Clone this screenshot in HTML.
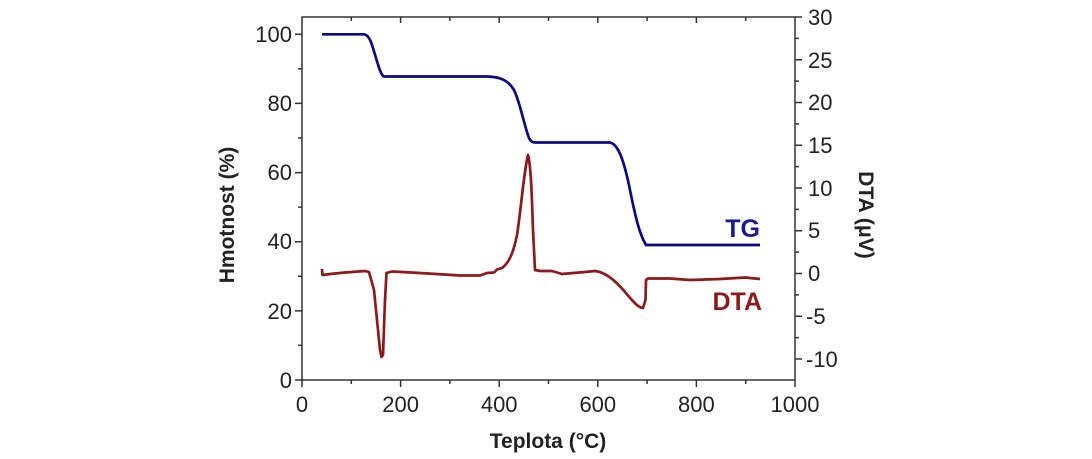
<!DOCTYPE html>
<html><head><meta charset="utf-8"><style>
body{margin:0;background:#fff}
svg{display:block}
text{font-family:"Liberation Sans",Arial,sans-serif}
</style></head><body>
<svg width="1092" height="459" viewBox="0 0 1092 459">
<g stroke="#333" stroke-width="1.5" fill="none">
<rect x="302" y="17" width="493" height="363"/>
<path d="M302 380v7M400.6 380v7M499.2 380v7M597.8 380v7M696.4 380v7M795 380v7M351.3 380v4M449.9 380v4M548.5 380v4M647.1 380v4M745.7 380v4"/>
<path d="M400.6 17v6M499.2 17v6M597.8 17v6M696.4 17v6M351.3 17v4M449.9 17v4M548.5 17v4M647.1 17v4M745.7 17v4"/>
<path d="M302 380h-7M302 310.9h-7M302 241.7h-7M302 172.6h-7M302 103.4h-7M302 34.3h-7M302 345.4h-4M302 276.3h-4M302 207.1h-4M302 138h-4M302 68.9h-4"/>
<path d="M795 17h7M795 59.8h7M795 102.5h7M795 145.3h7M795 188h7M795 230.8h7M795 273.5h7M795 316.3h7M795 359h7M795 38.4h4M795 81.1h4M795 123.9h4M795 166.6h4M795 209.4h4M795 252.1h4M795 294.9h4M795 337.6h4"/>
</g>
<g font-size="22" fill="#222">
<g text-anchor="middle">
<text x="302" y="412">0</text><text x="400.6" y="412">200</text><text x="499.2" y="412">400</text><text x="597.8" y="412">600</text><text x="696.4" y="412">800</text><text x="795" y="412">1000</text>
</g>
<g text-anchor="end">
<text x="292" y="388">0</text><text x="292" y="319">20</text><text x="292" y="249">40</text><text x="292" y="180">60</text><text x="292" y="111">80</text><text x="292" y="42">100</text>
</g>
<g text-anchor="start">
<text x="808" y="25">30</text><text x="808" y="68">25</text><text x="808" y="110">20</text><text x="808" y="153">15</text><text x="808" y="196">10</text><text x="808" y="238">5</text><text x="808" y="281">0</text><text x="806" y="324">-5</text><text x="806" y="367">-10</text>
</g>
</g>
<text x="548" y="448" font-size="21" font-weight="bold" text-anchor="middle" fill="#222">Teplota (°C)</text>
<text transform="translate(234,215) rotate(-90)" font-size="21" font-weight="bold" text-anchor="middle" fill="#222">Hmotnost (%)</text>
<text transform="translate(859,215) rotate(90)" font-size="21" font-weight="bold" text-anchor="middle" fill="#222">DTA (μV)</text>
<text x="760" y="237" font-size="25" font-weight="bold" text-anchor="end" fill="#1a1a8c">TG</text>
<text x="762" y="310" font-size="25" font-weight="bold" text-anchor="end" fill="#8b1a1a">DTA</text>
<path fill="none" stroke="#0a0a80" stroke-width="2.7" d="M322 34.3 L364 34.3 C370 35 372 45 376 58 C379 68 381 75 384 76.5 L488 76.5 C500 77 508 80 514 90 C520 102 524 125 529 138 C531 142 533 142.5 536 142.5 L610 142.5 C618 144 624 160 630 190 C636 220 640 235 646 245 L760 245"/>
<path fill="none" stroke="#8b1a1a" stroke-width="2.7" stroke-linejoin="round" d="M322 269 L322.5 275 L330 274 L345 272.5 L365 271 L369 272 L374 290 L380 350 L381.5 357 L383 355 L385 300 L386.5 273 L392 271.5 L420 273 L460 275.5 L480 275.5 L487 273 L494 272.5 L497 269.5 L502 268 C510 262 514 250 517 235 C521 210 524 170 528 155 C531 165 532 200 533 230 L535 270 L540 271 L552 271 L562 274 L585 272 L595 271 C605 272 615 280 625 292 C632 300 638 308 643 308 L645.5 300 L646 280 L648 278.5 L670 278.5 L690 280 L720 279 L745 277.5 L760 279"/>
</svg>
</body></html>
